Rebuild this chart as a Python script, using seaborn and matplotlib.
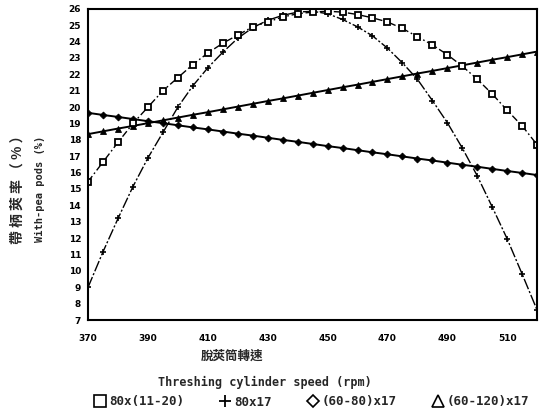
import matplotlib
matplotlib.use("Agg")
import matplotlib.pyplot as plt
from matplotlib.lines import Line2D
from matplotlib.ticker import MultipleLocator
import seaborn as sns

# Threshing cylinder speed (rpm), sampled every 5 rpm
rpm = list(range(370, 525, 5))

# With-pea pods (%) for each setting
sq_80x11_20 = [15.45, 16.65, 17.85, 19.0, 20.0, 21.0, 21.8, 22.6, 23.3, 23.9,
               24.4, 24.9, 25.2, 25.5, 25.7, 25.8, 25.85, 25.8, 25.65, 25.45,
               25.2, 24.8, 24.3, 23.8, 23.2, 22.5, 21.7, 20.8, 19.8, 18.85, 17.7]
plus_80x17 = [9.0, 11.17, 13.2, 15.15, 16.9, 18.45, 20.0, 21.3, 22.4, 23.35,
              24.2, 24.85, 25.3, 25.6, 25.8, 25.85, 25.7, 25.35, 24.9, 24.35,
              23.6, 22.7, 21.7, 20.4, 19.05, 17.5, 15.8, 13.9, 11.95, 9.8, 7.6]
dia_60_80x17 = [19.65, 19.52, 19.40, 19.27, 19.14, 19.02, 18.89, 18.76, 18.64, 18.51,
                18.38, 18.26, 18.13, 18.00, 17.88, 17.75, 17.62, 17.50, 17.37, 17.24,
                17.12, 16.99, 16.86, 16.74, 16.61, 16.48, 16.36, 16.23, 16.10, 15.98, 15.85]
tri_60_120x17 = [18.35, 18.52, 18.69, 18.85, 19.02, 19.19, 19.36, 19.53, 19.69, 19.86,
                 20.03, 20.20, 20.37, 20.53, 20.70, 20.87, 21.04, 21.21, 21.37, 21.54,
                 21.71, 21.88, 22.05, 22.21, 22.38, 22.55, 22.72, 22.89, 23.05, 23.22, 23.39]

legend_labels = ["80x(11-20)", "80x17", "(60-80)x17", "(60-120)x17"]
y_ticks = list(range(7, 27))
x_tick_labels = [370, 390, 410, 430, 450, 470, 490, 510]

sns.set_style("white")
plt.rcParams["font.family"] = ["DejaVu Sans", "Noto Sans CJK TC"]

fig = plt.figure(figsize=(5.47, 4.20), dpi=100)
ax = fig.add_axes([0.161, 0.238, 0.821, 0.741])

sns.lineplot(x=rpm, y=tri_60_120x17, ax=ax, color="black", lw=1.4,
             marker="^", markersize=4, markerfacecolor="black",
             markeredgecolor="black", markeredgewidth=0.6)
sns.lineplot(x=rpm, y=dia_60_80x17, ax=ax, color="black", lw=1.4,
             marker="D", markersize=3.5, markerfacecolor="black",
             markeredgecolor="black", markeredgewidth=0.6)
sns.lineplot(x=rpm, y=plus_80x17, ax=ax, color="black", lw=1.0,
             linestyle=(0, (8, 1.5, 1.5, 1.5)),
             marker="+", markersize=5, markeredgecolor="black",
             markeredgewidth=1.2)
sns.lineplot(x=rpm, y=sq_80x11_20, ax=ax, color="black", lw=1.0,
             linestyle=(0, (5, 2, 1.2, 2)),
             marker="s", markersize=5, markerfacecolor="white",
             markeredgecolor="black", markeredgewidth=1.3)

ax.set_xlim(370, 520)
ax.set_ylim(7, 26)
ax.set_xticks(x_tick_labels)
ax.xaxis.set_minor_locator(MultipleLocator(10))
ax.set_yticks(y_ticks)
ax.set_xlabel("")
ax.set_ylabel("")

for side in ["left", "right", "top", "bottom"]:
    ax.spines[side].set_visible(True)
    ax.spines[side].set_color("black")
    ax.spines[side].set_linewidth(1.5)

ax.tick_params(axis="both", which="both", direction="out", colors="black",
               length=3, width=1)
ax.tick_params(axis="x", which="major", pad=7, labelsize=6.5)
ax.tick_params(axis="y", which="major", pad=2, labelsize=6.5)
for lab in ax.get_xticklabels() + ax.get_yticklabels():
    lab.set_fontweight("bold")

cjk = ["Noto Sans CJK TC", "DejaVu Sans"]
mono = ["DejaVu Sans Mono", "Noto Sans CJK TC"]

# axis titles
fig.text(0.424, 1 - 356 / 420, "脫莢筒轉速", family=cjk, fontsize=9,
         fontweight="bold", ha="center", va="center")
fig.text(0.485, 1 - 382 / 420, "Threshing cylinder speed (rpm)", family=mono,
         fontsize=8.5, fontweight="bold", ha="center", va="center")
fig.text(18 / 547, 1 - 186 / 420, "帶 柄 莢 率 （ % ）", family=cjk, fontsize=10,
         fontweight="bold", ha="center", va="center", rotation=90)
fig.text(40 / 547, 1 - 189 / 420, "With-pea pods (%)", family=mono, fontsize=7.5,
         fontweight="bold", ha="center", va="center", rotation=90)

handles = [
    Line2D([], [], ls="none", marker="s", ms=8, mfc="white", mec="black", mew=1.2),
    Line2D([], [], ls="none", marker="+", ms=8, mec="black", mew=1.3),
    Line2D([], [], ls="none", marker="D", ms=6.5, mfc="white", mec="black", mew=1.2),
    Line2D([], [], ls="none", marker="^", ms=8, mfc="white", mec="black", mew=1.2),
]
fig.legend(handles, legend_labels, loc="center", ncol=4,
           bbox_to_anchor=(0.571, 1 - 402 / 420), frameon=False,
           prop={"family": mono, "size": 9, "weight": "bold"},
           handlelength=0.8, handletextpad=0.3, columnspacing=2.9)

fig.savefig("out.png", dpi=100)
